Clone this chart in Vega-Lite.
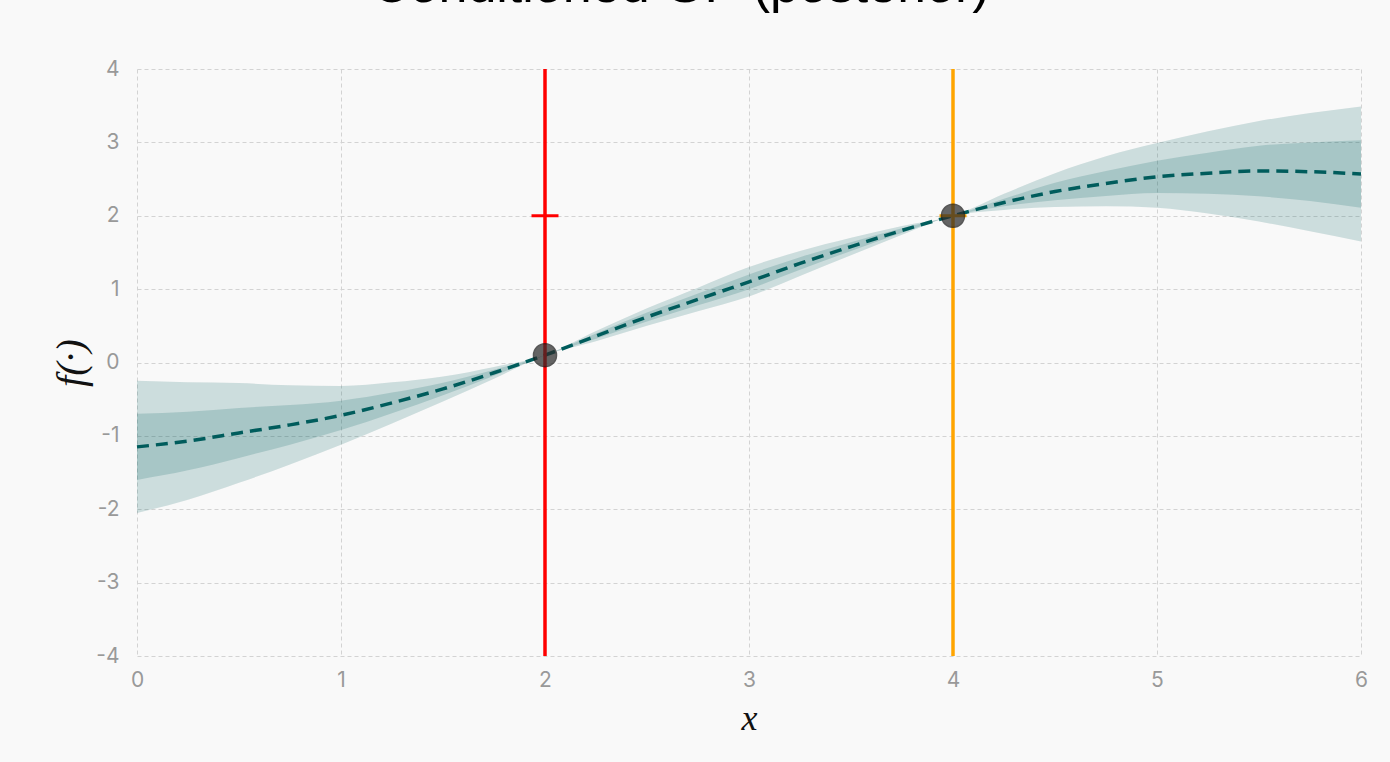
{
  "$schema": "https://vega.github.io/schema/vega-lite/v6.json",
  "width": 1224,
  "height": 587,
  "autosize": {"type": "none"},
  "padding": {"left": 137, "top": 69, "right": 29, "bottom": 106},
  "background": "#f9f9f9",
  "title": {
    "text": "Conditioned GP (posterior)",
    "anchor": "start",
    "frame": "group",
    "dx": 235,
    "offset": 45,
    "font": "Liberation Sans",
    "fontSize": 52,
    "fontWeight": "normal",
    "color": "#000000"
  },
  "config": {
    "view": {"stroke": null},
    "axis": {
      "domain": false,
      "ticks": false,
      "grid": true,
      "gridColor": "#d3d3d3",
      "gridDash": [4, 3],
      "gridWidth": 1,
      "labelFlush": false,
      "labelFont": "Inter",
      "labelFontSize": 21,
      "labelColor": "#999999",
      "labelExpr": "'' + datum.value",
      "titleFont": "Liberation Serif",
      "titleFontStyle": "italic",
      "titleFontWeight": "normal",
      "titleColor": "#111111"
    },
    "axisX": {"labelPadding": 13, "titlePadding": 11, "titleFontSize": 36},
    "axisY": {"labelPadding": 18, "titlePadding": 4, "titleFontSize": 40}
  },
  "datasets": {
    "posterior": [
      {"x": 0.00, "mean": -1.15, "lo2": -2.05, "lo1": -1.60, "hi1": -0.70, "hi2": -0.25},
      {"x": 0.25, "mean": -1.07, "lo2": -1.87, "lo1": -1.47, "hi1": -0.67, "hi2": -0.27},
      {"x": 0.50, "mean": -0.96, "lo2": -1.64, "lo1": -1.30, "hi1": -0.62, "hi2": -0.28},
      {"x": 0.75, "mean": -0.85, "lo2": -1.39, "lo1": -1.12, "hi1": -0.58, "hi2": -0.31},
      {"x": 1.00, "mean": -0.72, "lo2": -1.12, "lo1": -0.92, "hi1": -0.52, "hi2": -0.32},
      {"x": 1.25, "mean": -0.55, "lo2": -0.83, "lo1": -0.69, "hi1": -0.41, "hi2": -0.27},
      {"x": 1.50, "mean": -0.36, "lo2": -0.53, "lo1": -0.445, "hi1": -0.275, "hi2": -0.19},
      {"x": 1.75, "mean": -0.14, "lo2": -0.22, "lo1": -0.18, "hi1": -0.10, "hi2": -0.06},
      {"x": 2.00, "mean": 0.10, "lo2": 0.10, "lo1": 0.10, "hi1": 0.10, "hi2": 0.10},
      {"x": 2.25, "mean": 0.36, "lo2": 0.29, "lo1": 0.325, "hi1": 0.395, "hi2": 0.43},
      {"x": 2.50, "mean": 0.62, "lo2": 0.50, "lo1": 0.56, "hi1": 0.68, "hi2": 0.74},
      {"x": 2.75, "mean": 0.86, "lo2": 0.70, "lo1": 0.78, "hi1": 0.94, "hi2": 1.02},
      {"x": 3.00, "mean": 1.10, "lo2": 0.90, "lo1": 1.00, "hi1": 1.20, "hi2": 1.30},
      {"x": 3.25, "mean": 1.35, "lo2": 1.18, "lo1": 1.265, "hi1": 1.435, "hi2": 1.52},
      {"x": 3.50, "mean": 1.58, "lo2": 1.46, "lo1": 1.52, "hi1": 1.64, "hi2": 1.70},
      {"x": 3.75, "mean": 1.80, "lo2": 1.74, "lo1": 1.77, "hi1": 1.83, "hi2": 1.86},
      {"x": 4.00, "mean": 2.00, "lo2": 2.00, "lo1": 2.00, "hi1": 2.00, "hi2": 2.00},
      {"x": 4.25, "mean": 2.18, "lo2": 2.08, "lo1": 2.13, "hi1": 2.23, "hi2": 2.30},
      {"x": 4.50, "mean": 2.33, "lo2": 2.12, "lo1": 2.21, "hi1": 2.45, "hi2": 2.58},
      {"x": 4.75, "mean": 2.44, "lo2": 2.13, "lo1": 2.27, "hi1": 2.61, "hi2": 2.81},
      {"x": 5.00, "mean": 2.53, "lo2": 2.11, "lo1": 2.31, "hi1": 2.75, "hi2": 2.99},
      {"x": 5.25, "mean": 2.58, "lo2": 2.03, "lo1": 2.30, "hi1": 2.86, "hi2": 3.15},
      {"x": 5.50, "mean": 2.61, "lo2": 1.92, "lo1": 2.265, "hi1": 2.955, "hi2": 3.29},
      {"x": 5.75, "mean": 2.60, "lo2": 1.79, "lo1": 2.20, "hi1": 3.00, "hi2": 3.40},
      {"x": 6.00, "mean": 2.57, "lo2": 1.65, "lo1": 2.11, "hi1": 3.03, "hi2": 3.49}
    ],
    "queries": [
      {"x": 2, "y": 2, "color": "#ff0000"},
      {"x": 4, "y": 2, "color": "#ffa500"}
    ],
    "observations": [
      {"x": 2, "y": 0.10},
      {"x": 4, "y": 2.00}
    ]
  },
  "encoding": {
    "x": {
      "field": "x",
      "type": "quantitative",
      "title": "x",
      "scale": {"domain": [0, 6], "nice": false},
      "axis": {"values": [0, 1, 2, 3, 4, 5, 6]}
    }
  },
  "layer": [
    {
      "data": {"name": "posterior"},
      "mark": {"type": "area", "color": "#005f5f", "opacity": 0.18, "interpolate": "monotone"},
      "encoding": {
        "y": {
          "field": "lo2",
          "type": "quantitative",
          "title": "f(·)",
          "scale": {"domain": [-4, 4], "nice": false},
          "axis": {"values": [-4, -3, -2, -1, 0, 1, 2, 3, 4]}
        },
        "y2": {"field": "hi2"}
      }
    },
    {
      "data": {"name": "posterior"},
      "mark": {"type": "area", "color": "#005f5f", "opacity": 0.18, "interpolate": "monotone"},
      "encoding": {
        "y": {"field": "lo1", "type": "quantitative", "title": "f(·)"},
        "y2": {"field": "hi1"}
      }
    },
    {
      "data": {"name": "posterior"},
      "mark": {"type": "line", "color": "#005c5c", "strokeWidth": 3.5, "strokeDash": [12, 7], "interpolate": "monotone"},
      "encoding": {
        "y": {"field": "mean", "type": "quantitative", "title": "f(·)"}
      }
    },
    {
      "data": {"name": "queries"},
      "mark": {"type": "rule", "strokeWidth": 3.5},
      "encoding": {
        "color": {"field": "color", "type": "nominal", "scale": null}
      }
    },
    {
      "data": {"name": "queries"},
      "mark": {"type": "tick", "orient": "horizontal", "size": 27, "thickness": 3, "opacity": 1},
      "encoding": {
        "y": {"field": "y", "type": "quantitative", "title": "f(·)"},
        "color": {"field": "color", "type": "nominal", "scale": null}
      }
    },
    {
      "data": {"name": "observations"},
      "mark": {"type": "circle", "size": 530, "color": "#2b2b2b", "opacity": 0.72, "stroke": "#1a1a1a", "strokeWidth": 1.5},
      "encoding": {
        "y": {"field": "y", "type": "quantitative", "title": "f(·)"}
      }
    }
  ]
}
